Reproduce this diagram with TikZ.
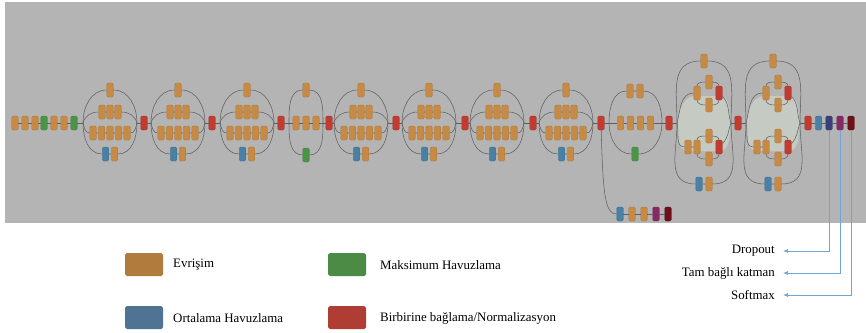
\documentclass[tikz,border=0pt]{standalone}
\usepackage{fontspec}
\setmainfont{Liberation Serif}
\usepackage{tikz}
\usetikzlibrary{arrows.meta}

\definecolor{bgray}{HTML}{B4B4B4}
\definecolor{lensc}{HTML}{C5CBC3}
\definecolor{lnc}{HTML}{5E5E5E}
\definecolor{cvc}{HTML}{C68A45}
\definecolor{mpc}{HTML}{4B9447}
\definecolor{apc}{HTML}{4A80A3}
\definecolor{ccc}{HTML}{C23B30}
\definecolor{doc}{HTML}{3C3E7C}
\definecolor{fcc}{HTML}{862962}
\definecolor{smc}{HTML}{6F0F18}
\definecolor{infoc}{HTML}{6FA5DA}
\definecolor{lgcvc}{HTML}{B27B3E}
\definecolor{lgmpc}{HTML}{4B8B46}
\definecolor{lgapc}{HTML}{4F7392}
\definecolor{lgccc}{HTML}{AF3D33}

% inception module, 35x35 and 17x17 grid
\newcommand{\incmod}[2]{%
  \coordinate (#1i) at (#2-27,123);
  \coordinate (#1o) at (#2+27,123);
  \node[cv] (#1t) at (#2,90) {};
  \node[cv] (#1a1) at (#2-8,112) {};
  \node[cv] (#1a2) at (#2,112) {};
  \node[cv] (#1a3) at (#2+8,112) {};
  \node[cv] (#1b1) at (#2-17,133) {};
  \node[cv] (#1b2) at (#2-8.5,133) {};
  \node[cv] (#1b3) at (#2,133) {};
  \node[cv] (#1b4) at (#2+8.5,133) {};
  \node[cv] (#1b5) at (#2+17,133) {};
  \node[ap] (#1p1) at (#2-4.5,154) {};
  \node[cv] (#1p2) at (#2+4.5,154) {};
  \draw[ln] (#1i) to[out=90,in=180] (#1t) to[out=0,in=90] (#1o);
  \draw[ln] (#1i) to[out=75,in=180] (#1a1) -- (#1a2) -- (#1a3) to[out=0,in=105] (#1o);
  \draw[ln] (#1i) to[out=-75,in=180] (#1b1) -- (#1b2) -- (#1b3) -- (#1b4) -- (#1b5) to[out=0,in=-105] (#1o);
  \draw[ln] (#1i) to[out=-90,in=180] (#1p1) -- (#1p2) to[out=0,in=-90] (#1o);
}

% inception module, 8x8 grid
\newcommand{\incmodc}[2]{%
  \coordinate (#1i) at (#2-27,123);
  \coordinate (#1o) at (#2+27,123);
  \fill[lensc] (#1i) to[out=80,in=180] (#2-8,96) -- (#2+15,96) to[out=0,in=100] (#1o)
    to[out=-100,in=0] (#2+15,151) -- (#2-16,151) to[out=180,in=-80] (#1i) -- cycle;
  \node[cv] (#1t) at (#2,61) {};
  \node[cv] (#1u1) at (#2-7,93) {};
  \node[cv] (#1u2) at (#2+5,82) {};
  \node[cv] (#1u3) at (#2+5,105) {};
  \node[cc] (#1u4) at (#2+15,93) {};
  \node[cv] (#1l1) at (#2-16,147) {};
  \node[cv] (#1l2) at (#2-7,147) {};
  \node[cv] (#1l3) at (#2+5,136) {};
  \node[cv] (#1l4) at (#2+5,159) {};
  \node[cc] (#1l5) at (#2+15,147) {};
  \node[ap] (#1b1) at (#2-5,184) {};
  \node[cv] (#1b2) at (#2+5,184) {};
  \draw[ln] (#1i) to[out=90,in=180,looseness=1.2] (#1t) to[out=0,in=90,looseness=1.2] (#1o);
  \draw[ln] (#1i) to[out=-90,in=180,looseness=1.2] (#1b1) -- (#1b2) to[out=0,in=-90,looseness=1.2] (#1o);
  \draw[ln] (#1i) to[out=75,in=180] (#1u1);
  \draw[ln] (#1u1) to[out=90,in=180] (#1u2) to[out=0,in=90] (#1u4);
  \draw[ln] (#1u1) to[out=-90,in=180] (#1u3) to[out=0,in=-90] (#1u4);
  \draw[ln] (#1u4) to[out=-45,in=110] (#1o);
  \draw[ln] (#1i) to[out=-75,in=180] (#1l1) -- (#1l2);
  \draw[ln] (#1l2) to[out=90,in=180] (#1l3) to[out=0,in=90] (#1l5);
  \draw[ln] (#1l2) to[out=-90,in=180] (#1l4) to[out=0,in=-90] (#1l5);
  \draw[ln] (#1l5) to[out=45,in=-110] (#1o);
}

\begin{document}
\begin{tikzpicture}[x=0.03cm,y=-0.03cm,
    blk/.style={rectangle,rounded corners=1.2pt,minimum width=0.195cm,minimum height=0.42cm,inner sep=0pt,line width=0.3pt},
    cv/.style={blk,fill=cvc,draw=cvc!85!black},
    mp/.style={blk,fill=mpc,draw=mpc!85!black},
    ap/.style={blk,fill=apc,draw=apc!85!black},
    cc/.style={blk,fill=ccc,draw=ccc!85!black},
    dout/.style={blk,fill=doc,draw=doc!85!black},
    fc/.style={blk,fill=fcc,draw=fcc!85!black},
    sm/.style={blk,fill=smc,draw=smc!85!black},
    ln/.style={draw=lnc,line width=0.45pt},
    info/.style={draw=infoc,line width=0.6pt,-{Latex[length=1.5mm,width=1.2mm]},shorten >=2.4mm},
    lgbox/.style={rectangle,rounded corners=1.5pt,minimum width=1.14cm,minimum height=0.69cm,inner sep=0pt},
    lbl/.style={inner sep=0pt,font=\fontsize{11}{13}\selectfont}]
\useasboundingbox (0,0) rectangle (866,332);
\fill[bgray] (5,2) rectangle (866,223);

% stem
\node[cv] (s1) at (15,123) {};
\node[cv] (s2) at (25,123) {};
\node[cv] (s3) at (35,123) {};
\node[mp] (s4) at (44,123) {};
\node[cv] (s5) at (54,123) {};
\node[cv] (s6) at (64,123) {};
\node[mp] (s7) at (74,123) {};

% 35x35 modules
\incmod{A1}{110}
\node[cc] (r1) at (144,123) {};
\incmod{A2}{178}
\node[cc] (r2) at (212,123) {};
\incmod{A3}{247}
\node[cc] (r3) at (281,123) {};

% reduction 1
\coordinate (Bi) at (289,123);
\coordinate (Bo) at (323,123);
\node[cv] (Bt) at (306,90) {};
\node[cv] (Bm1) at (296,123) {};
\node[cv] (Bm2) at (306,123) {};
\node[cv] (Bm3) at (316,123) {};
\node[mp] (Bg) at (306,155) {};
\draw[ln] (Bi) to[out=90,in=180] (Bt) to[out=0,in=90] (Bo);
\draw[ln] (Bi) -- (Bm1) -- (Bm2) -- (Bm3) -- (Bo);
\draw[ln] (Bi) to[out=-90,in=180] (Bg) to[out=0,in=-90] (Bo);
\node[cc] (r4) at (329,123) {};

% 17x17 modules
\incmod{C1}{361}
\node[cc] (r5) at (396,123) {};
\incmod{C2}{429}
\node[cc] (r6) at (465,123) {};
\incmod{C3}{497}
\node[cc] (r7) at (533,123) {};
\incmod{C4}{566}
\node[cc] (r8) at (601,123) {};

% reduction 2
\coordinate (Di) at (609,123);
\coordinate (Do) at (662,123);
\node[cv] (Dt1) at (630,91) {};
\node[cv] (Dt2) at (640,91) {};
\node[cv] (Dm1) at (620.5,123) {};
\node[cv] (Dm2) at (630.5,123) {};
\node[cv] (Dm3) at (640.5,123) {};
\node[cv] (Dm4) at (650.5,123) {};
\node[mp] (Dg) at (635,154) {};
\draw[ln] (Di) to[out=90,in=180] (Dt1) -- (Dt2) to[out=0,in=90] (Do);
\draw[ln] (Di) -- (Dm1) -- (Dm2) -- (Dm3) -- (Dm4) -- (Do);
\draw[ln] (Di) to[out=-90,in=180] (Dg) to[out=0,in=-90] (Do);
\node[cc] (r9) at (669,123) {};

% 8x8 modules
\incmodc{E1}{704}
\node[cc] (r10) at (738,123) {};
\incmodc{E2}{773}

% head
\node[cc] (f1) at (808,123) {};
\node[ap] (f2) at (818.5,123) {};
\node[dout] (f3) at (829,123) {};
\node[fc] (f4) at (840,123) {};
\node[sm] (f5) at (851,123) {};

% auxiliary head
\node[ap] (x1) at (620,214) {};
\node[cv] (x2) at (632,214) {};
\node[cv] (x3) at (644,214) {};
\node[fc] (x4) at (656,214) {};
\node[sm] (x5) at (668,214) {};

% main line
\draw[ln] (s1) -- (s2) -- (s3) -- (s4) -- (s5) -- (s6) -- (s7) -- (A1i);
\draw[ln] (A1o) -- (r1) -- (A2i);
\draw[ln] (A2o) -- (r2) -- (A3i);
\draw[ln] (A3o) -- (r3) -- (Bi);
\draw[ln] (Bo) -- (r4) -- (C1i);
\draw[ln] (C1o) -- (r5) -- (C2i);
\draw[ln] (C2o) -- (r6) -- (C3i);
\draw[ln] (C3o) -- (r7) -- (C4i);
\draw[ln] (C4o) -- (r8) -- (Di);
\draw[ln] (Do) -- (r9) -- (E1i);
\draw[ln] (E1o) -- (r10) -- (E2i);
\draw[ln] (E2o) -- (f1) -- (f2) -- (f3) -- (f4) -- (f5);
\draw[ln] (r8) .. controls (603,195) and (605,214) .. (x1);
\draw[ln] (x1) -- (x2) -- (x3) -- (x4) -- (x5);

% labels on the right
\node[lbl,anchor=east] (tdo) at (775,251) {Dropout};
\node[lbl,anchor=east] (tfc) at (775,273) {Tam bağlı katman};
\node[lbl,anchor=east] (tsm) at (775,295) {Softmax};
\draw[info] (f3) |- (tdo);
\draw[info] (f4) |- (tfc);
\draw[info] (f5) |- (tsm);

% legend
\node[lgbox,fill=lgcvc] (lg1) at (144,264.5) {};
\node[lbl,anchor=west] (lt1) at (173,265) {Evrişim};
\node[lgbox,fill=lgmpc] (lg2) at (347,264.5) {};
\node[lbl,anchor=west] (lt2) at (380,265) {Maksimum Havuzlama};
\node[lgbox,fill=lgapc] (lg3) at (144,317.5) {};
\node[lbl,anchor=west] (lt3) at (173,318) {Ortalama Havuzlama};
\node[lgbox,fill=lgccc] (lg4) at (347,317.5) {};
\node[lbl,anchor=west] (lt4) at (380,318) {Birbirine bağlama/Normalizasyon};
\end{tikzpicture}
\end{document}
